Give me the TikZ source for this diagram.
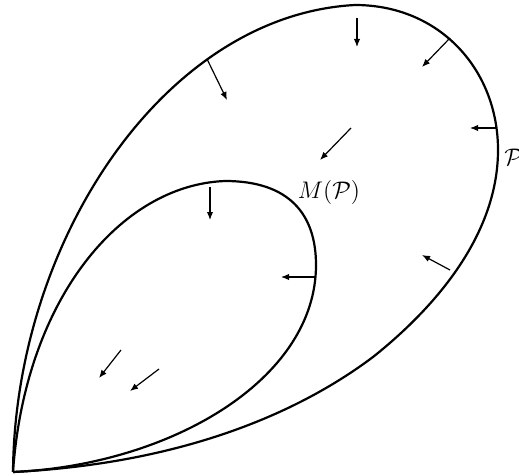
\documentclass[tikz,border=0pt]{standalone}
\usepackage{amssymb}
\usepackage{amsmath}
\usetikzlibrary{arrows.meta}

\begin{document}
\begin{tikzpicture}[
  x=0.5pt, y=-0.5pt,
  boundary/.style={
    draw=black, line width=1.1pt, line join=round
  },
  flowarrow/.style={
    -{Latex[length=4pt, width=3.2pt]}, draw=black, line width=0.6pt
  },
  font=\fontsize{13pt}{15pt}\selectfont
]
\useasboundingbox (0,0) rectangle (519,476);

% ============================================================
% Outer boundary P
% ============================================================
\draw[boundary]
  (13,472) .. controls (15,240) and (165,15) ..
  (355,5) .. controls (440,5) and (498,70) ..
  (498,150) .. controls (498,230) and (442,302) ..
  (373,357) .. controls (285,423) and (163,464.5) ..
  (13,472);

% ============================================================
% Inner boundary M(P)
% ============================================================
\draw[boundary]
  (13,472) .. controls (25,300) and (120,185) ..
  (225,181) .. controls (290,181) and (316,215) ..
  (316,265) .. controls (316,380) and (170,465) ..
  (13,472);

% Arrows on the outer boundary
\foreach \xa/\ya/\xb/\yb in {207/59/227/100, 357/18/357/47,
    450/38/422/67, 497/128/470/128, 450/270/422/255} {
  \draw[flowarrow] (\xa,\ya) -- (\xb,\yb);
}

% Arrows on and inside the inner boundary
\foreach \xa/\ya/\xb/\yb in {351/128/320/160, 210/187/210/220,
    315/277/281/277, 121/350/99/378, 159/369/130/391} {
  \draw[flowarrow] (\xa,\ya) -- (\xb,\yb);
}

% Labels
\node (mp) at (329,192) {$M(\mathcal{P})$};
\node[anchor=west, inner sep=0pt] (p) at (504,157) {$\mathcal{P}$};

\end{tikzpicture}
\end{document}
